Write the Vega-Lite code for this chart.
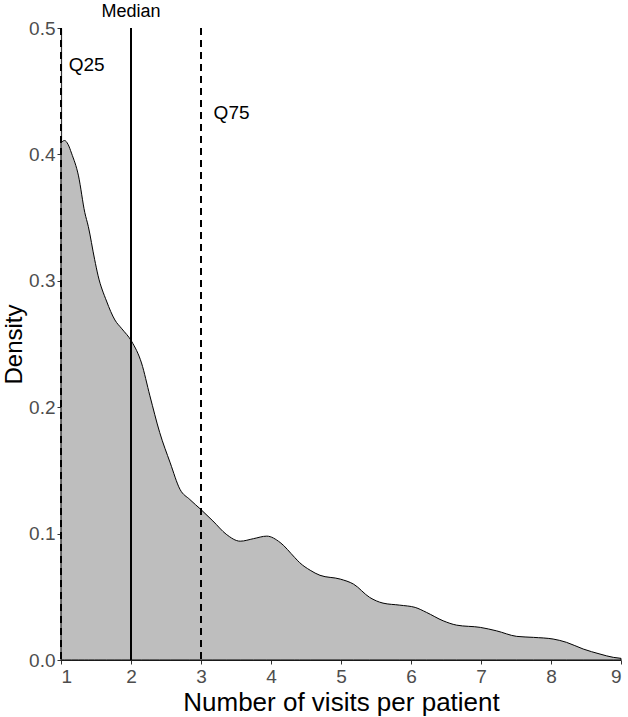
{
  "$schema": "https://vega.github.io/schema/vega-lite/v6.json",
  "width": 560,
  "height": 632,
  "autosize": {"type": "none"},
  "padding": {"left": 61, "top": 28, "right": 7, "bottom": 57},
  "background": "white",
  "config": {
    "view": {"stroke": null},
    "font": "Liberation Sans",
    "axis": {
      "grid": false,
      "domainColor": "#333333",
      "domainWidth": 1.2,
      "tickColor": "#333333",
      "tickSize": 4,
      "labelColor": "#4d4d4d",
      "labelFont": "Liberation Sans",
      "labelFontSize": 19,
      "titleFont": "Liberation Sans",
      "titleFontWeight": "normal",
      "titleFontSize": 26,
      "titleColor": "black"
    }
  },
  "datasets": {
    "curve": [
      {"x": 1.0, "y": 0.409},
      {"x": 1.05, "y": 0.411},
      {"x": 1.1, "y": 0.408},
      {"x": 1.15, "y": 0.401},
      {"x": 1.25, "y": 0.383},
      {"x": 1.34, "y": 0.354},
      {"x": 1.39, "y": 0.343},
      {"x": 1.48, "y": 0.317},
      {"x": 1.53, "y": 0.304},
      {"x": 1.65, "y": 0.284},
      {"x": 1.77, "y": 0.269},
      {"x": 1.87, "y": 0.262},
      {"x": 2.01, "y": 0.252},
      {"x": 2.15, "y": 0.235},
      {"x": 2.27, "y": 0.209},
      {"x": 2.41, "y": 0.18},
      {"x": 2.56, "y": 0.156},
      {"x": 2.7, "y": 0.135},
      {"x": 2.84, "y": 0.127},
      {"x": 3.0, "y": 0.119},
      {"x": 3.17, "y": 0.11},
      {"x": 3.36, "y": 0.0995},
      {"x": 3.56, "y": 0.094},
      {"x": 3.75, "y": 0.096},
      {"x": 3.94, "y": 0.098},
      {"x": 4.13, "y": 0.093},
      {"x": 4.34, "y": 0.081},
      {"x": 4.41, "y": 0.077},
      {"x": 4.56, "y": 0.071},
      {"x": 4.7, "y": 0.067},
      {"x": 4.99, "y": 0.064},
      {"x": 5.18, "y": 0.06},
      {"x": 5.41, "y": 0.0495},
      {"x": 5.6, "y": 0.045},
      {"x": 5.84, "y": 0.0434},
      {"x": 6.06, "y": 0.0416},
      {"x": 6.22, "y": 0.0377},
      {"x": 6.46, "y": 0.031},
      {"x": 6.65, "y": 0.0276},
      {"x": 6.99, "y": 0.0258},
      {"x": 7.22, "y": 0.0231},
      {"x": 7.51, "y": 0.0187},
      {"x": 7.75, "y": 0.0179},
      {"x": 8.03, "y": 0.0166},
      {"x": 8.22, "y": 0.014},
      {"x": 8.46, "y": 0.0087},
      {"x": 8.7, "y": 0.0047},
      {"x": 8.89, "y": 0.0021},
      {"x": 9.0, "y": 0.0013}
    ],
    "quartiles": [
      {"x": 1, "name": "Q25"},
      {"x": 3, "name": "Q75"}
    ],
    "median": [
      {"x": 2, "name": "Median"}
    ],
    "labels": [
      {"x": 1.11, "y": 0.471, "label": "Q25"},
      {"x": 3.18, "y": 0.433, "label": "Q75"}
    ],
    "toplabel": [
      {"x": 2, "y": 0.513, "label": "Median"}
    ]
  },
  "layer": [
    {
      "data": {"name": "curve"},
      "mark": {"type": "area", "color": "#bebebe", "stroke": "black", "strokeWidth": 1, "interpolate": "monotone"},
      "encoding": {
        "x": {
          "field": "x", "type": "quantitative",
          "scale": {"domain": [1, 9], "nice": false, "zero": false},
          "axis": {"values": [1, 2, 3, 4, 5, 6, 7, 8, 9], "format": "d", "title": "Number of visits per patient", "labelPadding": 3, "titlePadding": 3}
        },
        "y": {
          "field": "y", "type": "quantitative",
          "scale": {"domain": [0, 0.5], "nice": false},
          "axis": {"values": [0, 0.1, 0.2, 0.3, 0.4, 0.5], "format": ".1f", "title": "Density", "labelPadding": 2, "titlePadding": 2, "titleFontSize": 24}
        }
      }
    },
    {
      "data": {"name": "quartiles"},
      "mark": {"type": "rule", "color": "black", "strokeWidth": 2, "strokeDash": [7, 5]},
      "encoding": {"x": {"field": "x", "type": "quantitative"}}
    },
    {
      "data": {"name": "median"},
      "mark": {"type": "rule", "color": "black", "strokeWidth": 2},
      "encoding": {"x": {"field": "x", "type": "quantitative"}}
    },
    {
      "data": {"name": "labels"},
      "mark": {"type": "text", "align": "left", "baseline": "middle", "fontSize": 19, "color": "black", "font": "Liberation Sans"},
      "encoding": {
        "x": {"field": "x", "type": "quantitative"},
        "y": {"field": "y", "type": "quantitative"},
        "text": {"field": "label"}
      }
    },
    {
      "data": {"name": "toplabel"},
      "mark": {"type": "text", "align": "center", "baseline": "middle", "fontSize": 18, "color": "black", "font": "Liberation Sans"},
      "encoding": {
        "x": {"field": "x", "type": "quantitative"},
        "y": {"field": "y", "type": "quantitative"},
        "text": {"field": "label"}
      }
    }
  ]
}
